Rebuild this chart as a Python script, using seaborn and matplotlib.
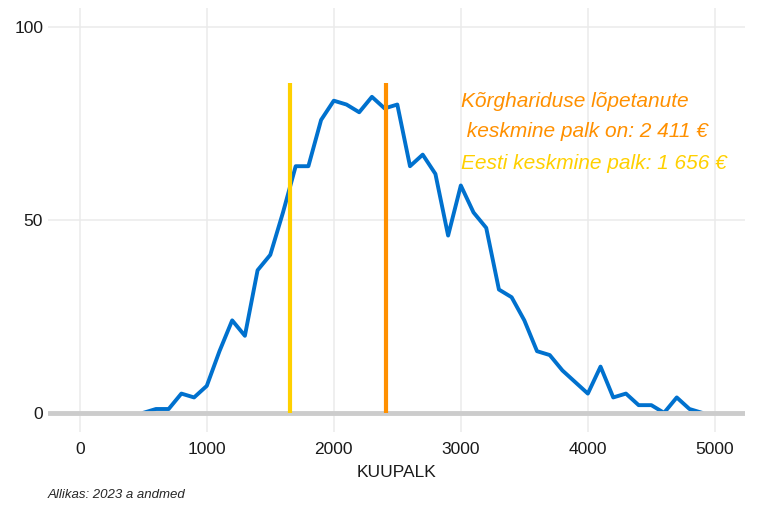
import numpy as np
import pandas as pd
import seaborn as sns
import matplotlib.pyplot as plt

# salary bins (EUR) and counts
kuupalk = [500, 600, 700, 800, 900, 1000, 1100, 1200, 1300, 1400, 1500, 1600,
           1700, 1800, 1900, 2000, 2100, 2200, 2300, 2400, 2500, 2600, 2700,
           2800, 2900, 3000, 3100, 3200, 3300, 3400, 3500, 3600, 3700, 3800,
           3900, 4000, 4100, 4200, 4300, 4400, 4500, 4600, 4700, 4800, 4900]
arv = [0, 1, 1, 5, 4, 7, 16, 24, 20, 37, 41, 52,
       64, 64, 76, 81, 80, 78, 82, 79, 80, 64, 67,
       62, 46, 59, 52, 48, 32, 30, 24, 16, 15, 11,
       8, 5, 12, 4, 5, 2, 2, 0, 4, 1, 0]

eesti_keskmine = 1656
korgharidus_keskmine = 2411
joone_korgus = 85.5

sns.set_theme(style="whitegrid")
plt.rcParams['font.family'] = ['Liberation Sans', 'DejaVu Sans']

df = pd.DataFrame({'KUUPALK': kuupalk, 'arv': arv})

fig = plt.figure(figsize=(7.68, 5.12), dpi=100)
ax = fig.add_axes([0.0625, 0.156, 0.908, 0.828])

ax.axhline(0, color='#cccccc', lw=3.5, zorder=3)
sns.lineplot(data=df, x='KUUPALK', y='arv', color='#0071CE', lw=2.8, ax=ax, zorder=2)
ax.vlines(eesti_keskmine, 0, joone_korgus, color='#FFD000', lw=3, zorder=4)
ax.vlines(korgharidus_keskmine, 0, joone_korgus, color='#FF9000', lw=3, zorder=4)

tekst = dict(fontsize=15, style='italic', va='center', ha='left')
ax.text(3000, 80.8, 'Kõrghariduse lõpetanute', color='#FF9000', **tekst)
ax.text(3000, 73.0, ' keskmine palk on: 2 411 €', color='#FF9000', **tekst)
ax.text(3000, 64.8, 'Eesti keskmine palk: 1 656 €', color='#FFD000', **tekst)

ax.set_xlim(-250, 5240)
ax.set_ylim(-5, 105)
ax.set_xticks([0, 1000, 2000, 3000, 4000, 5000])
ax.set_yticks([0, 50, 100])
ax.grid(color='#ebebeb', lw=1.1)
for s in ax.spines.values():
    s.set_visible(False)
ax.tick_params(labelsize=12.5, length=0, colors='#1a1a1a')
ax.tick_params(axis='x', pad=7)
ax.set_xlabel('KUUPALK', fontsize=12.5, color='#1a1a1a', labelpad=6)
ax.set_ylabel('')

fig.text(0.0625, 0.027, 'Allikas: 2023 a andmed', fontsize=9.5, style='italic')

fig.savefig('out.png', dpi=100)
